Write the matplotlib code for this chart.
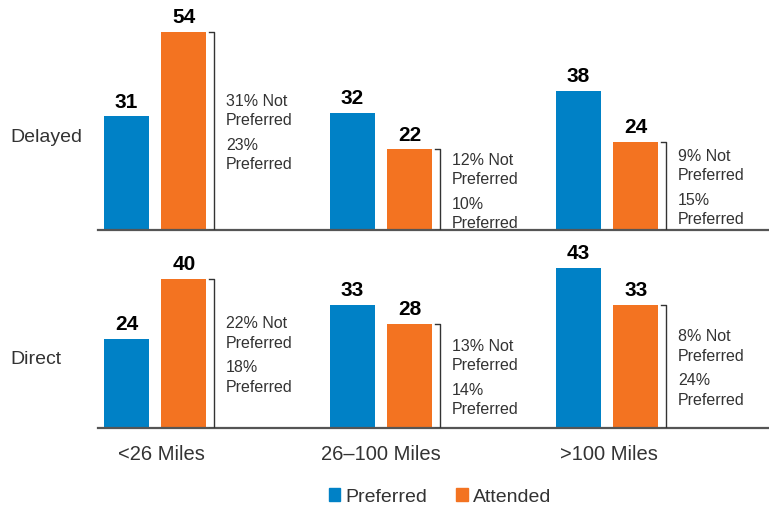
import matplotlib.pyplot as plt
from matplotlib.patches import Patch

plt.rcParams['font.family'] = ['Liberation Sans', 'DejaVu Sans']

# data
groups = ['<26 Miles', '26\u2013100 Miles', '>100 Miles']
rows = ['Delayed', 'Direct']
preferred = [[31, 32, 38], [24, 33, 43]]
attended = [[54, 22, 24], [40, 28, 33]]
not_pref_pct = [[31, 12, 9], [22, 13, 8]]
pref_pct = [[23, 10, 15], [18, 14, 24]]

blue = '#0081C6'
orange = '#F37321'
text_grey = '#333333'

fig = plt.figure(figsize=(7.69, 5.08), dpi=100)
W, H = 769, 508

# axes boxes in pixels: left, baseline, top, y max
panels = [(98, 230, 10, 60), (98, 428, 208, 59)]
x_lo, x_hi = -0.252, 2.717
bw = 0.199

for r, (left, base, top, ymax) in enumerate(panels):
    ax = fig.add_axes([left / W, 1 - base / H, (W - left) / W, (base - top) / H])
    ax.patch.set_visible(False)
    ax.set_xlim(x_lo, x_hi)
    ax.set_ylim(0, ymax)
    for s in ax.spines.values():
        s.set_visible(False)
    ax.set_yticks([])
    ax.axhline(0, color='#555555', lw=1.6, clip_on=False)

    for i in range(3):
        p = preferred[r][i]
        a = attended[r][i]
        ax.bar(i - 0.126, p, width=bw, color=blue)
        ax.bar(i + 0.128, a, width=bw, color=orange)
        ax.text(i - 0.126, p + 1.3, str(p), ha='center', va='bottom',
                fontsize=15, fontweight='bold', color='black')
        ax.text(i + 0.128, a + 1.3, str(a), ha='center', va='bottom',
                fontsize=15, fontweight='bold', color='black')

        # bracket next to the attended bar
        bx0, bx1 = i + 0.238, i + 0.262
        ax.plot([bx0, bx1, bx1, bx0], [a, a, 0, 0], color='#333333', lw=1.0)

        mid = a / 2
        ax.annotate(f'{not_pref_pct[r][i]}% Not\nPreferred', (i + 0.314, mid),
                    xytext=(0, 2), textcoords='offset points',
                    ha='left', va='bottom', fontsize=11.5, color=text_grey,
                    linespacing=1.35)
        ax.annotate(f'{pref_pct[r][i]}%\nPreferred', (i + 0.314, mid),
                    xytext=(0, -5), textcoords='offset points',
                    ha='left', va='top', fontsize=11.5, color=text_grey,
                    linespacing=1.35)

    if r == 1:
        ax.set_xticks([0.03, 1.0, 2.01])
        ax.set_xticklabels(groups, fontsize=14.5, color=text_grey)
        ax.tick_params(axis='x', length=0, pad=12)
    else:
        ax.set_xticks([])

fig.text(10 / W, 1 - 138 / H, rows[0], fontsize=14, color=text_grey,
         ha='left', va='center')
fig.text(10 / W, 1 - 360 / H, rows[1], fontsize=14, color=text_grey,
         ha='left', va='center')

handles = [Patch(color=blue, label='Preferred'), Patch(color=orange, label='Attended')]
leg = fig.legend(handles=handles, loc='center', bbox_to_anchor=(440 / W, 1 - 497 / H),
                 ncol=2, frameon=False, fontsize=14, handlelength=0.6,
                 handleheight=0.6, handletextpad=0.25, columnspacing=1.5)
for t in leg.get_texts():
    t.set_color(text_grey)

fig.savefig('out.png', dpi=100)
